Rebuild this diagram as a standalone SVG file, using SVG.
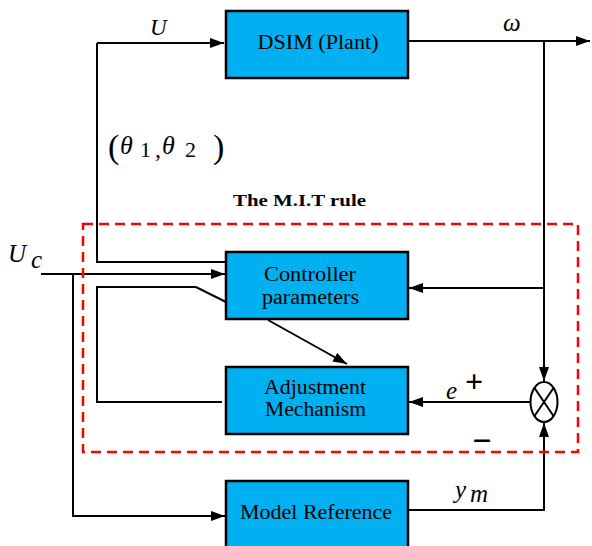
<svg xmlns="http://www.w3.org/2000/svg" width="592" height="546" viewBox="0 0 592 546">
<defs>
<marker id="ah" viewBox="0 0 14 10" refX="14" refY="5" markerWidth="14" markerHeight="10" markerUnits="userSpaceOnUse" orient="auto">
<path d="M0,0 L14,5 L0,10 Z" fill="#000"/>
</marker>
</defs>
<style>
text{font-family:'Liberation Serif','DejaVu Serif',serif}
.box{fill:#00B0F0;stroke:#000;stroke-width:2.5}
.lbl{font-size:20px;fill:#000;text-anchor:middle}
.it{font-style:italic;fill:#000}
.rm{fill:#000}
.ln{fill:none;stroke:#000;stroke-width:2}
</style>
<rect width="592" height="546" fill="#fff"/>
<g id="connectors">
<path class="ln" d="M97,43 H224" marker-end="url(#ah)"/>
<path class="ln" d="M97,43 V262 H226"/>
<path class="ln" d="M408,41 H590" marker-end="url(#ah)"/>
<path class="ln" d="M544,41 V381" marker-end="url(#ah)"/>
<path class="ln" d="M544,288 H409" marker-end="url(#ah)"/>
<path class="ln" d="M41,274 H225" marker-end="url(#ah)"/>
<path class="ln" d="M73,274 V516 H225" marker-end="url(#ah)"/>
<path class="ln" d="M226,302 L196,287 H97 V402 H222"/>
<path class="ln" d="M268,320 L347,364" marker-end="url(#ah)"/>
<path class="ln" d="M530,402 H409" marker-end="url(#ah)"/>
<path class="ln" d="M409,510 H544 V423" marker-end="url(#ah)"/>
</g>
<g id="mit-rule">
<rect x="83" y="224" width="495" height="228" fill="none" stroke="#FF0000" stroke-width="2.5" stroke-dasharray="10,6"/>
<text x="233" y="206" font-weight="bold" font-size="17" textLength="133" lengthAdjust="spacingAndGlyphs">The M.I.T rule</text>
</g>
<g id="dsim">
<rect class="box" x="226" y="11" width="182" height="67"/>
<text class="lbl" x="318" y="49" textLength="121" lengthAdjust="spacingAndGlyphs">DSIM (Plant)</text>
</g>
<g id="controller">
<rect class="box" x="226" y="252" width="182" height="67"/>
<text class="lbl" x="310" y="281" textLength="92" lengthAdjust="spacingAndGlyphs">Controller</text>
<text class="lbl" x="310.5" y="304" textLength="97" lengthAdjust="spacingAndGlyphs">parameters</text>
</g>
<g id="adjustment">
<rect class="box" x="226" y="367" width="182" height="67"/>
<text class="lbl" x="315" y="394" textLength="102" lengthAdjust="spacingAndGlyphs">Adjustment</text>
<text class="lbl" x="315.5" y="416" textLength="101" lengthAdjust="spacingAndGlyphs">Mechanism</text>
</g>
<g id="model">
<rect class="box" x="226" y="481" width="182" height="67"/>
<text class="lbl" x="316" y="519" textLength="152" lengthAdjust="spacingAndGlyphs">Model Reference</text>
</g>
<g id="sum">
<ellipse cx="544" cy="402" rx="13.5" ry="20" fill="#fff" stroke="#000" stroke-width="2"/>
<path class="ln" d="M534.5,388 L553.5,416 M553.5,388 L534.5,416"/>
</g>
<g id="labels">
<text class="it" x="150" y="35" font-size="23">U</text>
<text class="it" x="503" y="31" font-size="25">ω</text>
<text class="it" x="8" y="262" font-size="25">U</text>
<text class="it" x="31" y="268" font-size="25">c</text>
<text class="it" x="455" y="498" font-size="25">y</text>
<text class="it" x="470" y="502" font-size="25">m</text>
<text class="it" x="446" y="399" font-size="25">e</text>
<text class="rm" x="474" y="392" font-size="32" font-weight="bold" text-anchor="middle">+</text>
<text class="rm" x="482" y="452" font-size="34" font-weight="bold" text-anchor="middle">−</text>
<text class="rm" x="108" y="158" font-size="34">(</text>
<text class="it" x="120" y="154" font-size="26">θ</text>
<text class="rm" x="140" y="157" font-size="22">1</text>
<text class="rm" x="155" y="157" font-size="24">,</text>
<text class="it" x="162" y="154" font-size="26">θ</text>
<text class="rm" x="185" y="157" font-size="22">2</text>
<text class="rm" x="213" y="158" font-size="34">)</text>
</g>
</svg>
